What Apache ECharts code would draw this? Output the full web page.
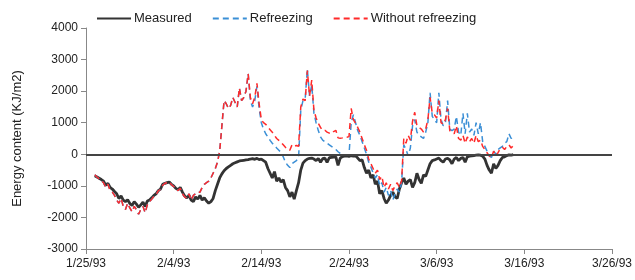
<!DOCTYPE html>
<html>
<head>
<meta charset="utf-8">
<script src="https://cdn.jsdelivr.net/npm/echarts@6/dist/echarts.min.js"></script>
<style>
  html, body { margin: 0; padding: 0; background: #fff; }
  #main { width: 635px; height: 280px; }
</style>
</head>
<body>
<div id="main"></div>
<script>
// day offsets from 1/25/93, one value every 6 hours starting at day 1 (1/26/93)
const startDay = 1;
const stepDay = 0.25;
const xTicks = ['1/25/93', '2/4/93', '2/14/93', '2/24/93', '3/6/93', '3/16/93', '3/26/93'];

// Measured
const measured = [
	-680, -720, -760, -800,
	-850, -980, -920, -1050,
	-1100, -1180, -1250, -1400,
	-1320, -1450, -1500, -1440,
	-1560, -1620, -1500, -1580,
	-1680, -1600, -1520, -1650,
	-1480, -1450, -1380, -1300,
	-1250, -1150, -1100, -950,
	-920, -900, -880, -950,
	-1000, -1080, -1120, -1050,
	-1200, -1320, -1380, -1300,
	-1450, -1500, -1350, -1420,
	-1300, -1450, -1380, -1480,
	-1550, -1500, -1400, -1150,
	-950, -750, -620, -520,
	-450, -400, -350, -300,
	-270, -240, -210, -200,
	-190, -180, -170, -150,
	-140, -160, -130, -170,
	-150, -200, -250, -450,
	-600, -750, -550, -850,
	-750, -880, -800, -1050,
	-1150, -1350, -1200, -1420,
	-1150, -900, -500, -280,
	-200, -150, -130, -120,
	-150, -200, -130, -250,
	-140, -120, -260, -110,
	-100, -90, -80, -350,
	-120, -70, -60, -50,
	-70, -40, -60, -50,
	-120, -200, -180, -420,
	-600, -500, -750, -650,
	-950, -850, -1250, -1150,
	-1400, -1550, -1450, -1300,
	-1200, -1350, -1400, -1100,
	-900, -750, -950, -850,
	-800, -1050, -900, -600,
	-800, -920, -650, -700,
	-500, -300, -200, -180,
	-150, -120, -200, -250,
	-150, -130, -180, -300,
	-150, -100, -200, -130,
	-100, -250, -80, -60,
	-50, -40, -30, -20,
	-30, -60, -150, -350,
	-500, -600, -300, -450,
	-350, -200, -100, -80,
	-40, -20, -30, -10
];

// Refreezing (model)
const refreezing = [
	-650, -720, -780, -830,
	-900, -1050, -950, -1150,
	-1200, -1300, -1450, -1550,
	-1400, -1650, -1750, -1550,
	-1700, -1820, -1650, -1750,
	-1900, -1750, -1650, -1850,
	-1600, -1500, -1420, -1330,
	-1280, -1150, -1120, -980,
	-920, -900, -870, -960,
	-1020, -1100, -1150, -1080,
	-1250, -1350, -1400, -1250,
	-1450, -1300, -1250, -1200,
	-1200, -1050, -950, -900,
	-850, -750, -600, -450,
	-250, 100, 900, 1700,
	1600, 1450, 1550, 1800,
	1650, 1500, 2100, 1700,
	1800, 2000, 2550, 1700,
	1500, 1700, 2150, 1450,
	1000, 800, 650, 550,
	440, 350, 280, 200,
	130, 60, -80, -250,
	-350, -420, -300, -250,
	-200, -120, 1400, 1700,
	1750, 2700, 1850, 2200,
	1300, 1000, 750, 550,
	450, 400, 350, 300,
	250, 200, 150, 80,
	30, 10, -20, -30,
	-20, 1000, 1250, 1000,
	750, 600, 400, 200,
	0, -250, -400, -600,
	-750, -650, -1000, -900,
	-1200, -1050, -1300, -1150,
	-1450, -1250, -1100, -1200,
	-900, 300, 150, -50,
	200, 900, 1100, 700,
	600, 550, 500, 700,
	1000, 1950, 1200, 1100,
	1000, 1950, 1100, 900,
	1000, 1700, 800, 750,
	800, 1200, 700, 600,
	1300, 650, 1300, 700,
	800, 600, 1000, 650,
	1000, 400, 250, 100,
	-50, -100, 100, 0,
	150, 200, 250, 350,
	400, 650, 500, 600
];

// Without refreezing (model)
const withoutRefreezing = [
	-650, -720, -780, -830,
	-900, -1050, -950, -1150,
	-1200, -1300, -1450, -1550,
	-1400, -1650, -1750, -1550,
	-1700, -1820, -1650, -1750,
	-1900, -1750, -1650, -1850,
	-1600, -1500, -1420, -1330,
	-1280, -1150, -1120, -980,
	-920, -900, -870, -960,
	-1020, -1100, -1150, -1080,
	-1250, -1350, -1400, -1250,
	-1450, -1300, -1250, -1200,
	-1200, -1050, -950, -900,
	-850, -750, -600, -450,
	-250, 100, 900, 1700,
	1600, 1450, 1550, 1800,
	1650, 1500, 2100, 1700,
	1800, 2000, 2550, 1800,
	1600, 1800, 2250, 1600,
	1100, 1000, 950, 860,
	780, 700, 600, 500,
	440, 380, 300, 220,
	150, 130, 300, 250,
	280, 250, 1500, 1750,
	1700, 2650, 1850, 2350,
	1400, 1150, 980, 850,
	760, 760, 700, 670,
	650, 720, 760, 520,
	510, 520, 540, 540,
	560, 1450, 1100, 980,
	850, 700, 500, 300,
	130, -150, -300, -450,
	-600, -500, -800, -700,
	-1050, -900, -1100, -950,
	-1150, -1000, -900, -1050,
	-850, 500, 350, 600,
	450, 1050, 1330, 900,
	850, 800, 700, 800,
	1100, 1800, 1300, 1250,
	1150, 1700, 1000, 950,
	1100, 1450, 750, 700,
	650, 900, 500, 450,
	600, 350, 550, 400,
	500, 350, 600, 400,
	450, 250, 150, 50,
	-50, -100, 100, -50,
	50, 180, 220, 150,
	250, 300, 200, 280
];

function toPairs(arr) {
	return arr.map((v, i) => [startDay + i * stepDay, v]);
}

const font = '"Liberation Sans", Arial, sans-serif';
let myChart = echarts.init(document.getElementById('main'), null, { renderer: 'canvas' });

let option = {
	animation: false,
	backgroundColor: '#fff',
	textStyle: { fontFamily: font },
	legend: {
		left: 91,
		top: 7,
		itemWidth: 34,
		itemHeight: 10,
		itemGap: 20,
		itemStyle: { opacity: 0 },
		textStyle: { fontSize: 13, color: '#222', fontFamily: font, padding: [0, 0, 0, -2] },
		data: ['Measured', 'Refreezing', 'Without refreezing']
	},
	grid: { left: 86, right: 23, top: 28, bottom: 31 },
	xAxis: {
		type: 'value',
		min: 0,
		max: 60,
		interval: 10,
		axisLine: { onZero: false, lineStyle: { color: '#888', width: 1 } },
		axisTick: { show: true, length: 5, lineStyle: { color: '#888' } },
		splitLine: { show: false },
		axisLabel: {
			color: '#222',
			fontSize: 12,
			margin: 9,
			formatter: v => xTicks[Math.round(v / 10)]
		}
	},
	yAxis: {
		type: 'value',
		min: -3000,
		max: 4000,
		interval: 1000,
		name: 'Energy content (KJ/m2)',
		nameLocation: 'middle',
		nameGap: 62,
		nameTextStyle: { fontSize: 13, color: '#222', fontFamily: font },
		axisLine: { show: true, onZero: false, lineStyle: { color: '#888', width: 1 } },
		axisTick: { show: true, length: 5, lineStyle: { color: '#888' } },
		splitLine: { show: false },
		axisLabel: { color: '#222', fontSize: 12, margin: 8, formatter: v => String(v) }
	},
	series: [
		{
			name: 'Measured',
			type: 'line',
			data: toPairs(measured),
			showSymbol: false,
			symbol: 'none',
			lineStyle: { color: '#333', width: 2.8 },
			itemStyle: { color: '#333' },
			markLine: {
				silent: true,
				symbol: 'none',
				label: { show: false },
				lineStyle: { color: '#444', width: 2, type: 'solid' },
				data: [{ yAxis: 0 }]
			},
			z: 2
		},
		{
			name: 'Refreezing',
			type: 'line',
			data: toPairs(refreezing),
			showSymbol: false,
			symbol: 'none',
			lineStyle: { color: '#3b8fd6', width: 1.5, type: [6, 4] },
			itemStyle: { color: '#3b8fd6' },
			z: 3
		},
		{
			name: 'Without refreezing',
			type: 'line',
			data: toPairs(withoutRefreezing),
			showSymbol: false,
			symbol: 'none',
			lineStyle: { color: '#ff2a2a', width: 1.5, type: [6, 4] },
			itemStyle: { color: '#ff2a2a' },
			z: 4
		}
	]
};
myChart.setOption(option);
</script>
</body>
</html>
